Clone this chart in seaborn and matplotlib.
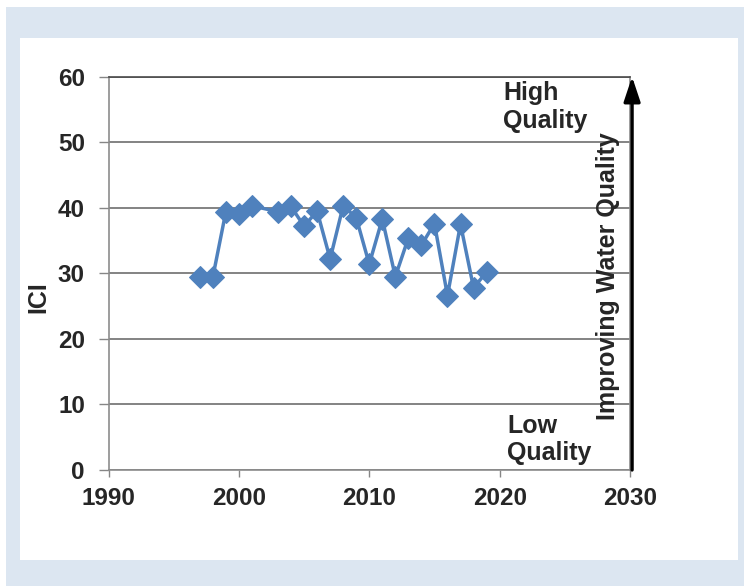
import numpy as np
import pandas as pd
import matplotlib
matplotlib.use("Agg")
import matplotlib.pyplot as plt
from matplotlib.patches import Rectangle
import seaborn as sns

# ICI values per sampling year
years = [1997, 1998, 1999, 2000, 2001, 2003, 2004, 2005, 2006, 2007, 2008,
         2009, 2010, 2011, 2012, 2013, 2014, 2015, 2016, 2017, 2018, 2019]
ici = [29.5, 29.4, 39.4, 39.1, 40.3, 39.4, 40.2, 37.2, 39.5, 32.2, 40.3,
       38.5, 31.4, 38.3, 29.5, 35.4, 34.3, 37.6, 26.6, 37.5, 27.8, 30.2]
x_ticks = [1990, 2000, 2010, 2020, 2030]
y_ticks = [0, 10, 20, 30, 40, 50, 60]

df = pd.DataFrame({"year": years, "ICI": ici})

sns.set_style("white")
plt.rcParams["font.family"] = ["Liberation Sans", "DejaVu Sans"]

fig = plt.figure(figsize=(7.44, 5.86), dpi=100)
fig.patch.set_facecolor("white")

# light blue frame with white panel
W, H = 744, 586
fig.add_artist(Rectangle((6 / W, 0), 1 - 6 / W, 1 - 6.7 / H, transform=fig.transFigure,
                         facecolor="#dce6f1", edgecolor="none", zorder=-10))
fig.add_artist(Rectangle((20 / W, (H - 560) / H), (738.3 - 20) / W, (560 - 38.3) / H,
                         transform=fig.transFigure, facecolor="white", edgecolor="none", zorder=-9))

ax = fig.add_axes([108.5 / W, (H - 470) / H, (630 - 108.5) / W, (470 - 76.7) / H])
ax.set_facecolor("none")

sns.lineplot(data=df, x="year", y="ICI", ax=ax, color="#4f81bd", linewidth=2.5,
             marker="D", markersize=11.5, markeredgecolor="#4f81bd", zorder=3)

ax.set_xlim(1990, 2030)
ax.set_ylim(0, 60)
ax.set_xticks(x_ticks)
ax.set_yticks(y_ticks)
ax.set_xlabel("")
ax.set_ylabel("ICI", fontsize=18, fontweight="bold")
ax.yaxis.set_label_coords(-0.112, 0.44)

for lbl in ax.get_xticklabels() + ax.get_yticklabels():
    lbl.set_fontweight("bold")
ax.tick_params(axis="x", labelsize=17.5, length=5, width=1, color="#868686", pad=7, direction="out")
ax.tick_params(axis="y", labelsize=17.5, length=7, width=1, color="#868686", pad=10, direction="out")
ax.tick_params(bottom=True, left=True)

ax.grid(axis="y", color="#6e6e6e", linewidth=1.2)
ax.grid(axis="x", visible=False)
for side in ["left", "bottom", "right"]:
    ax.spines[side].set_color("#8c8c8c")
    ax.spines[side].set_linewidth(1.2)
ax.spines["top"].set_color("#4a4a4a")
ax.spines["top"].set_linewidth(1.2)

# quality arrow and annotations
ax.annotate("", xy=(1.004, 1.0), xytext=(1.004, 0.0), xycoords="axes fraction",
            arrowprops=dict(arrowstyle="-|>,head_length=0.75,head_width=0.25",
                            lw=2.4, color="black", mutation_scale=20,
                            shrinkA=0, shrinkB=0), annotation_clip=False)
ax.text(2020.25, 59.4, "High\nQuality", fontsize=18, fontweight="bold",
        ha="left", va="top", linespacing=1.22)
ax.text(2020.6, 8.6, "Low\nQuality", fontsize=18, fontweight="bold",
        ha="left", va="top", linespacing=1.2)
ax.text(2028.3, 29.6, "Improving Water Quality", fontsize=18, fontweight="bold",
        rotation=90, ha="center", va="center")

fig.savefig("out.png", dpi=100)
